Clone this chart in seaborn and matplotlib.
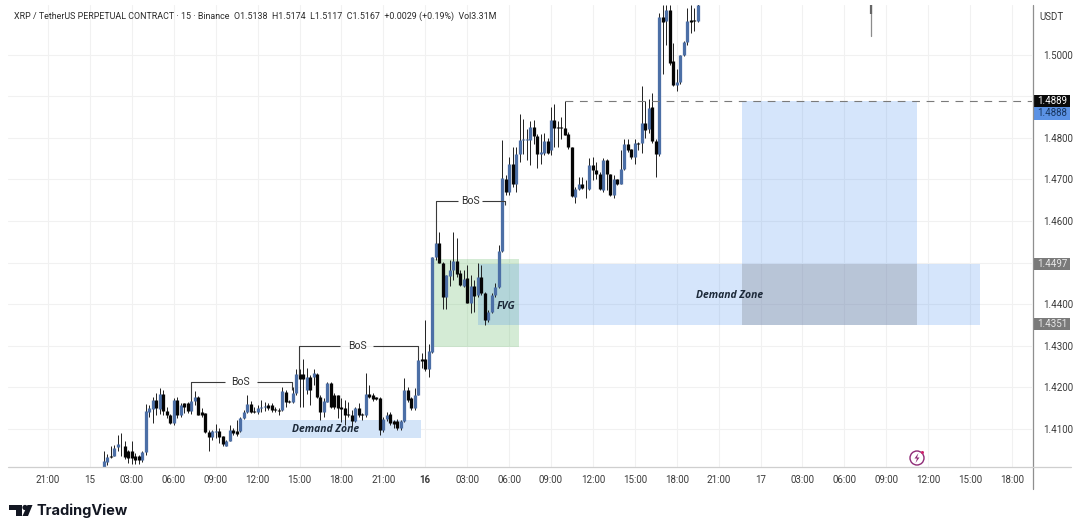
import numpy as np
import pandas as pd
import matplotlib
matplotlib.use('Agg')
import matplotlib.pyplot as plt
import seaborn as sns
from matplotlib.patches import Rectangle, Circle, Polygon

# 15 minute candles, bar 0 is 15th 00:00
first_bar = 4
opens = [
    1.4008,1.4021,1.4034,1.4036,1.4057,1.4063,1.4060,1.4046,1.4046,1.4036,
    1.4034,1.4025,1.4044,1.4142,1.4148,1.4170,1.4148,1.4185,1.4144,1.4133,
    1.4114,1.4170,1.4134,1.4162,1.4162,1.4143,1.4168,1.4178,1.4141,1.4138,
    1.4093,1.4080,1.4093,1.4095,1.4083,1.4060,1.4072,1.4098,1.4096,1.4096,
    1.4126,1.4142,1.4161,1.4144,1.4141,
    1.4151,1.4152,1.4157,1.4158,1.4147,1.4146,1.4146,1.4190,1.4168,1.4166,
    1.4186,1.4232,1.4232,1.4193,1.4226,1.4225,1.4232,1.4178,1.4142,1.4166,
    1.4210,1.4182,1.4181,1.4152,1.4150,1.4136,1.4134,1.4120,1.4150,1.4135,
    1.4134,1.4184,1.4182,1.4176,1.4174,1.4098,1.4125,1.4136,1.4120,1.4120,
    1.4102,1.4120,1.4194,1.4174,1.4150,1.4182,1.4268,1.4268,1.4244,1.4286,
    1.4513,1.4548,1.4500,1.4417,1.4468,1.4482,1.4504,1.4474,1.4444,1.4462,
    1.4404,1.4444,1.4422,1.4466,1.4428,1.4362,1.4381,1.4422,1.4442,1.4529,
    1.4701,1.4669,1.4738,1.4688,1.4762,1.4794,1.4795,1.4795,1.4826,1.4804,
    1.4760,1.4764,1.4792,1.4770,1.4842,1.4826,1.4827,1.4824,1.4808,1.4777,
    1.4658,1.4678,1.4690,1.4678,1.4676,1.4734,1.4722,1.4712,1.4675,1.4746,
    1.4714,1.4662,1.4700,1.4690,1.4726,1.4786,1.4772,1.4754,1.4788,1.4787,
    1.4836,1.4820,1.4874,1.4792,1.4760,1.5090,1.5080,1.5106,1.4984,1.4926,
    1.4934,1.5000,1.5030,1.5082,1.5082,1.5080,
]
closes = [
    1.4022,1.4032,1.4033,1.4054,1.4064,1.4064,1.4032,1.4030,1.4030,1.4025,
    1.4025,1.4044,1.4144,1.4150,1.4170,1.4150,1.4185,1.4144,1.4133,1.4114,
    1.4169,1.4134,1.4157,1.4153,1.4144,1.4168,1.4178,1.4133,1.4133,1.4093,
    1.4080,1.4095,1.4096,1.4080,1.4063,1.4072,1.4098,1.4090,1.4088,1.4126,
    1.4142,1.4161,1.4142,1.4141,1.4150,
    1.4152,1.4155,1.4151,1.4145,1.4146,1.4144,1.4192,1.4166,1.4165,1.4186,
    1.4232,1.4221,1.4220,1.4225,1.4193,1.4234,1.4176,1.4142,1.4168,1.4210,
    1.4153,1.4153,1.4150,1.4149,1.4134,1.4133,1.4120,1.4150,1.4133,1.4133,
    1.4184,1.4178,1.4172,1.4173,1.4098,1.4125,1.4134,1.4114,1.4112,1.4102,
    1.4120,1.4194,1.4170,1.4150,1.4182,1.4266,1.4264,1.4245,1.4288,1.4513,
    1.4548,1.4500,1.4417,1.4470,1.4482,1.4504,1.4473,1.4446,1.4460,1.4404,
    1.4444,1.4420,1.4466,1.4426,1.4362,1.4381,1.4422,1.4442,1.4529,1.4703,
    1.4669,1.4738,1.4688,1.4762,1.4794,1.4796,1.4796,1.4826,1.4804,1.4760,
    1.4766,1.4792,1.4764,1.4842,1.4824,1.4824,1.4824,1.4806,1.4777,1.4660,
    1.4676,1.4689,1.4680,1.4676,1.4734,1.4722,1.4712,1.4677,1.4746,1.4714,
    1.4662,1.4700,1.4690,1.4726,1.4786,1.4770,1.4754,1.4788,1.4786,1.4836,
    1.4818,1.4872,1.4792,1.4760,1.5090,1.5078,1.5106,1.4980,1.4926,1.4934,
    1.5000,1.5030,1.5080,1.5079,1.5080,1.5120,
]
highs = [
    1.4046,1.4040,1.4060,1.4062,1.4086,1.4090,1.4070,1.4050,1.4070,1.4042,
    1.4038,1.4048,1.4160,1.4158,1.4178,1.4186,1.4198,1.4194,1.4154,1.4136,
    1.4174,1.4176,1.4162,1.4162,1.4164,1.4175,1.4192,1.4180,1.4150,1.4138,
    1.4098,1.4098,1.4112,1.4102,1.4084,1.4074,1.4110,1.4102,1.4122,1.4130,
    1.4146,1.4182,1.4168,1.4154,1.4157,
    1.4170,1.4166,1.4162,1.4162,1.4152,1.4150,1.4202,1.4194,1.4170,1.4202,
    1.4245,1.4244,1.4269,1.4247,1.4230,1.4245,1.4234,1.4182,1.4174,1.4214,
    1.4212,1.4186,1.4182,1.4174,1.4170,1.4166,1.4146,1.4154,1.4162,1.4138,
    1.4234,1.4205,1.4186,1.4178,1.4176,1.4130,1.4142,1.4142,1.4122,1.4124,
    1.4122,1.4222,1.4202,1.4178,1.4198,1.4294,1.4282,1.4362,1.4305,1.4514,
    1.4578,1.4574,1.4502,1.4470,1.4506,1.4574,1.4558,1.4482,1.4482,1.4494,
    1.4470,1.4458,1.4498,1.4494,1.4430,1.4386,1.4426,1.4450,1.4542,1.4794,
    1.4710,1.4754,1.4778,1.4778,1.4858,1.4844,1.4822,1.4840,1.4842,1.4810,
    1.4810,1.4812,1.4800,1.4874,1.4880,1.4841,1.4850,1.4889,1.4814,1.4778,
    1.4682,1.4706,1.4706,1.4698,1.4752,1.4754,1.4742,1.4718,1.4752,1.4750,
    1.4714,1.4710,1.4702,1.4770,1.4798,1.4798,1.4774,1.4798,1.4790,1.4924,
    1.4889,1.4892,1.4908,1.4796,1.5100,1.5120,1.5120,1.5120,1.5028,1.4964,
    1.5000,1.5032,1.5112,1.5120,1.5112,1.5122,
]
lows = [
    1.4008,1.4014,1.4030,1.4034,1.4046,1.4034,1.4028,1.4018,1.4016,1.4016,
    1.4016,1.4021,1.4038,1.4130,1.4114,1.4134,1.4136,1.4133,1.4126,1.4112,
    1.4110,1.4126,1.4128,1.4138,1.4138,1.4135,1.4158,1.4133,1.4130,1.4090,
    1.4048,1.4074,1.4078,1.4066,1.4058,1.4058,1.4070,1.4086,1.4082,1.4093,
    1.4124,1.4138,1.4138,1.4138,1.4136,
    1.4142,1.4144,1.4145,1.4141,1.4142,1.4134,1.4144,1.4154,1.4162,1.4162,
    1.4182,1.4154,1.4154,1.4183,1.4158,1.4206,1.4174,1.4122,1.4130,1.4165,
    1.4150,1.4149,1.4126,1.4118,1.4110,1.4130,1.4106,1.4117,1.4130,1.4122,
    1.4130,1.4174,1.4168,1.4170,1.4085,1.4093,1.4120,1.4110,1.4102,1.4098,
    1.4098,1.4118,1.4165,1.4146,1.4146,1.4181,1.4246,1.4240,1.4224,1.4282,
    1.4506,1.4498,1.4388,1.4388,1.4444,1.4458,1.4466,1.4444,1.4442,1.4402,
    1.4378,1.4382,1.4418,1.4422,1.4350,1.4358,1.4378,1.4418,1.4438,1.4525,
    1.4663,1.4663,1.4682,1.4670,1.4742,1.4762,1.4746,1.4734,1.4786,1.4728,
    1.4738,1.4758,1.4762,1.4758,1.4778,1.4778,1.4798,1.4806,1.4774,1.4658,
    1.4642,1.4674,1.4678,1.4656,1.4674,1.4698,1.4702,1.4674,1.4670,1.4674,
    1.4660,1.4656,1.4686,1.4688,1.4722,1.4766,1.4750,1.4738,1.4770,1.4764,
    1.4800,1.4812,1.4788,1.4706,1.4755,1.4954,1.5024,1.4976,1.4924,1.4912,
    1.4928,1.4996,1.5024,1.5052,1.5056,1.5078,
]

x_ticks = list(range(-12, 265, 12))
x_labels = ['21:00', '15', '03:00', '06:00', '09:00', '12:00', '15:00', '18:00',
            '21:00', '16', '03:00', '06:00', '09:00', '12:00', '15:00', '18:00',
            '21:00', '17', '03:00', '06:00', '09:00', '12:00', '15:00', '18:00']
y_ticks = [1.41, 1.42, 1.43, 1.44, 1.45, 1.46, 1.47, 1.48, 1.49, 1.50]
y_labels = ['1.4100', '1.4200', '1.4300', '1.4400', '', '1.4600', '1.4700', '1.4800', '', '1.5000']

header = ('XRP / TetherUS PERPETUAL CONTRACT \u00b7 15 \u00b7 Binance  O1.5138  H1.5174  '
          'L1.5117  C1.5167  +0.0029 (+0.19%)  Vol3.31M')

sns.set_theme(style='white')
plt.rcParams['font.family'] = ['Roboto', 'DejaVu Sans']

UP = '#4c6fa6'
DOWN = '#050505'
TEXT = '#3a3a3a'

fig = plt.figure(figsize=(10.8, 5.31), dpi=100)
ax = fig.add_axes([8 / 1080, (531 - 467) / 531, 1024 / 1080, 462 / 531])

bars = first_bar + np.arange(len(opens))
candles = pd.DataFrame({'bar': bars, 'open': opens, 'high': highs, 'low': lows, 'close': closes})
candles['dir'] = np.where(candles['close'] >= candles['open'], 'up', 'down')

wicks = candles.melt(id_vars=['bar', 'dir'], value_vars=['low', 'high'], value_name='price')
bodies = candles.melt(id_vars=['bar', 'dir'], value_vars=['open', 'close'], value_name='price')

# zones under the candles
ax.add_patch(Rectangle((43, 1.40784), 51.8, 0.00432, fc='#d3e4f8', ec='none', zorder=1))
ax.add_patch(Rectangle((98, 1.4297), 24.9, 0.0212, fc='#4caf50', alpha=0.24, ec='none', zorder=1))
ax.add_patch(Rectangle((111, 1.4351), 143.8, 0.0146, fc='#2f80ed', alpha=0.2, ec='none', zorder=1.1))
ax.add_patch(Rectangle((186.7, 1.4497), 50.1, 0.0392, fc='#2f80ed', alpha=0.2, ec='none', zorder=1))
ax.add_patch(Rectangle((186.7, 1.4351), 50.1, 0.0146, fc='#787b86', alpha=0.3, ec='none', zorder=1.2))

sns.lineplot(data=wicks, x='bar', y='price', units='bar', estimator=None, sort=False,
             color='#202020', linewidth=0.7, solid_capstyle='butt', zorder=3, ax=ax, legend=False)
sns.lineplot(data=bodies, x='bar', y='price', units='bar', hue='dir', estimator=None, sort=False,
             palette={'up': UP, 'down': DOWN}, linewidth=2.35, solid_capstyle='butt', zorder=4,
             ax=ax, legend=False)

# leftover wick near the top right
ax.plot([223.5, 223.5], [1.5044, 1.5125], color='#8c8c8c', lw=0.9, zorder=3)
ax.plot([223.5, 223.5], [1.5098, 1.5125], color='#666666', lw=1.6, solid_capstyle='butt', zorder=3)

# break of structure lines, gap left for the label
line = dict(color='#3a3a3a', lw=0.8, zorder=5, solid_capstyle='butt')
ax.plot([29, 29, 38.7], [1.4172, 1.4213, 1.4213], **line)
ax.plot([47.7, 57.7, 57.7], [1.4213, 1.4213, 1.4194], **line)
ax.plot([59.8, 59.8, 71.6], [1.4230, 1.4299, 1.4299], **line)
ax.plot([81, 93.9, 93.9], [1.4299, 1.4299, 1.4270], **line)
ax.plot([99, 99, 105.4], [1.4547, 1.4648, 1.4648], **line)
ax.plot([112.2, 118.8, 118.8], [1.4648, 1.4648, 1.4638], **line)
ax.plot([136, 269.7], [1.4889, 1.4889], color='#7a7a7a', lw=0.8, ls=(0, (7, 6)), zorder=5)

ital = dict(fontstyle='italic', fontweight='bold', color='#1d2a3a', ha='center', va='center',
            family=['Open Sans', 'DejaVu Sans'], zorder=6)
ax.text(67.5, 1.4100, 'Demand Zone', fontsize=7.5, **ital)
ax.text(119, 1.4394, 'FVG', fontsize=7.5, **ital)
ax.text(183, 1.4420, 'Demand Zone', fontsize=7.5, **ital)
bos = dict(fontsize=7.5, color='#2f2f2f', ha='center', va='center', zorder=6)
ax.text(43.2, 1.4213, 'BoS', **bos)
ax.text(76.7, 1.4299, 'BoS', **bos)
ax.text(108.8, 1.4648, 'BoS', **bos)

ax.set_xlim((8 - 90) / 3.4924, (1032 - 90) / 3.4924)
ax.set_ylim(1.40087, 1.5119)
ax.set_xticks(x_ticks)
ax.set_xticklabels(x_labels)
ax.set_yticks(y_ticks)
ax.set_yticklabels(y_labels)
ax.yaxis.tick_right()
ax.tick_params(axis='x', length=0, pad=6, labelsize=7, labelcolor=TEXT)
ax.tick_params(axis='y', length=0, pad=8, labelsize=7, labelcolor=TEXT)
for lbl in ax.get_xticklabels():
    if lbl.get_text() == '16':
        lbl.set_fontweight('bold')
ax.set_xlabel('')
ax.set_ylabel('')
ax.grid(True, color='#f1f1f1', lw=0.8)
ax.set_axisbelow(True)
for s in ax.spines.values():
    s.set_visible(False)

# overlay in pixel coordinates for chrome
top = fig.add_axes([0, 0, 1, 1], facecolor='none')
top.set_xlim(0, 1080)
top.set_ylim(531, 0)
top.axis('off')

top.plot([1032.5, 1032.5], [5, 489], color='#8f8f8f', lw=0.9)
top.plot([8, 1071], [467, 467], color='#cfcfcf', lw=0.9)
top.text(14, 16.5, header, fontsize=6.4, color='#2a2a2a', va='center', ha='left')
top.text(1052, 17.5, 'USDT', fontsize=7, color=TEXT, va='center', ha='center')

price_tags = [(94.5, 12.5, '#0a0a0a', '1.4889', 'white'),
              (107, 13, '#5b92e5', '1.4888', '#17355f'),
              (258, 12, '#7a7a7a', '1.4497', '#e8e8e8'),
              (318, 12, '#7a7a7a', '1.4351', '#e8e8e8')]
for y0, h, bg, txt, fg in price_tags:
    top.add_patch(Rectangle((1033, y0), 37, h, fc=bg, ec='none'))
    top.text(1052, y0 + h / 2, txt, fontsize=7, color=fg, va='center', ha='center')

# alert icon
top.add_patch(Circle((917, 458), 7, fc='white', ec='#8e2a76', lw=1.0))
top.add_patch(Circle((922.5, 452.5), 1.5, fc='#d0246b', ec='none'))
top.add_patch(Polygon([(918.5, 453), (914.5, 458.5), (917, 458.5), (915.5, 463),
                       (919.5, 457.5), (917, 457.5)], fc='#8e2a76', ec='none'))

# TradingView logo
top.add_patch(Polygon([(9, 505), (21.5, 505), (21.5, 516), (16, 516), (16, 510), (9, 510)],
                      fc='#131722', ec='none'))
top.add_patch(Circle((25, 507.5), 2.6, fc='#131722', ec='none'))
top.add_patch(Polygon([(27.5, 505), (32.5, 505), (28, 516), (22.5, 516)], fc='#131722', ec='none'))
top.text(36.5, 510.5, 'TradingView', fontsize=10.5, fontweight='bold', color='#131722',
         va='center', ha='left', family=['Inter', 'DejaVu Sans'])

fig.savefig('out.png', dpi=100, facecolor='white')
